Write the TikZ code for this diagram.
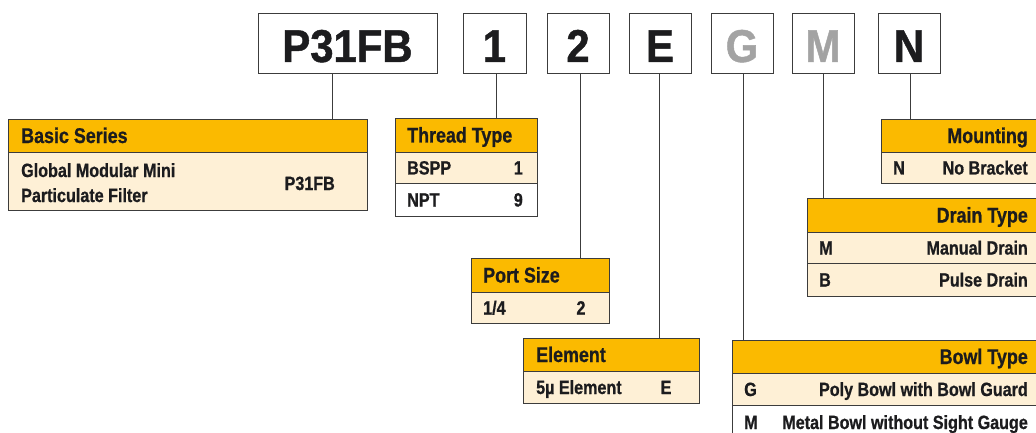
\documentclass[tikz,border=0pt]{standalone}
\usepackage{fontspec}
\newfontfamily\condf{Liberation Sans}[FakeStretch=0.84, FakeBold=0.8]
\newfontfamily\bigf{Liberation Sans}[FakeStretch=0.91, FakeBold=1]
\definecolor{hdrorange}{HTML}{FBBA00}
\definecolor{rowcream}{HTML}{FEF0D6}
\definecolor{linegrey}{HTML}{3C3C3C}
\definecolor{inkc}{HTML}{1C1C1E}
\definecolor{lightletter}{HTML}{A3A3A3}
\tikzset{
  codebox/.style={draw=linegrey, line width=1.4pt, fill=white, inner sep=0pt, minimum height=60pt, anchor=north west},
  bigtxt/.style={inner sep=0pt, anchor=base, text=inkc, font=\bigf\bfseries\fontsize{46}{50}\selectfont},
  hdrcell/.style={draw=linegrey, line width=1.1pt, fill=hdrorange, inner sep=0pt, anchor=north west},
  creamcell/.style={draw=linegrey, line width=1.1pt, fill=rowcream, inner sep=0pt, anchor=north west},
  whitecell/.style={draw=linegrey, line width=1.1pt, fill=white, inner sep=0pt, anchor=north west},
  hdrtxt/.style={inner sep=0pt, text=inkc, font=\condf\bfseries\fontsize{21.3}{24}\selectfont},
  rowtxt/.style={inner sep=0pt, text=inkc, font=\condf\bfseries\fontsize{19.2}{22}\selectfont},
  conn/.style={draw=linegrey, line width=1.2pt}
}
\begin{document}
\begin{tikzpicture}[x=1pt,y=-1pt]
\useasboundingbox (0,0) rectangle (1036,433);
\clip (0,0) rectangle (1036,433);

% ---- code boxes ----
\node[codebox, minimum width=179pt] (bxP) at (258,13) {};
\node[codebox, minimum width=63pt] (bx1) at (463,13) {};
\node[codebox, minimum width=62pt] (bx2) at (547,13) {};
\node[codebox, minimum width=62pt] (bxE) at (629,13) {};
\node[codebox, minimum width=62pt] (bxG) at (711,13) {};
\node[codebox, minimum width=62pt] (bxM) at (792,13) {};
\node[codebox, minimum width=62pt] (bxN) at (878,13) {};
\node[bigtxt] (tP) at (347.5,62) {P31FB};
\node[bigtxt] (t1) at (494.5,62) {1};
\node[bigtxt] (t2) at (578,62) {2};
\node[bigtxt] (tE) at (660,62) {E};
\node[bigtxt, text=lightletter] (tG) at (742,62) {G};
\node[bigtxt, text=lightletter] (tM) at (823,62) {M};
\node[bigtxt] (tN) at (909,62) {N};

% ---- Basic Series ----
\node[hdrcell, minimum width=359pt, minimum height=33pt] (bsH) at (8,119) {};
\node[creamcell, minimum width=359pt, minimum height=58pt] (bsR) at (8,152) {};
\node[hdrtxt, anchor=base west] (bsHt) at (21,143) {Basic Series};
\node[rowtxt, anchor=base west] (bsL1) at (21,177) {Global Modular Mini};
\node[rowtxt, anchor=base west] (bsL2) at (21,202) {Particulate Filter};
\node[rowtxt, anchor=base east] (bsV) at (335,190) {P31FB};

% ---- Thread Type ----
\node[hdrcell, minimum width=142pt, minimum height=34pt] (ttH) at (395,118) {};
\node[creamcell, minimum width=142pt, minimum height=31pt] (ttR1) at (395,152) {};
\node[whitecell, minimum width=142pt, minimum height=33pt] (ttR2) at (395,183) {};
\node[hdrtxt, anchor=base west] (ttHt) at (407,142.5) {Thread Type};
\node[rowtxt, anchor=base west] (tt1a) at (407,174.5) {BSPP};
\node[rowtxt, anchor=base east] (tt1b) at (523,174.5) {1};
\node[rowtxt, anchor=base west] (tt2a) at (407,206.5) {NPT};
\node[rowtxt, anchor=base east] (tt2b) at (523,206.5) {9};

% ---- Port Size ----
\node[hdrcell, minimum width=138pt, minimum height=34pt] (psH) at (471,258) {};
\node[creamcell, minimum width=138pt, minimum height=31pt] (psR) at (471,292) {};
\node[hdrtxt, anchor=base west] (psHt) at (483,282.5) {Port Size};
\node[rowtxt, anchor=base west] (psa) at (483,314.5) {1/4};
\node[rowtxt, anchor=base] (psb) at (581,314.5) {2};

% ---- Element ----
\node[hdrcell, minimum width=176pt, minimum height=33pt] (elH) at (523,338) {};
\node[creamcell, minimum width=176pt, minimum height=32pt] (elR) at (523,371) {};
\node[hdrtxt, anchor=base west] (elHt) at (536,362) {Element};
\node[rowtxt, anchor=base west] (ela) at (536,394) {5µ Element};
\node[rowtxt, anchor=base] (elb) at (666,394) {E};

% ---- Mounting ----
\node[hdrcell, minimum width=160pt, minimum height=33pt] (moH) at (881,119) {};
\node[creamcell, minimum width=160pt, minimum height=31pt] (moR) at (881,152) {};
\node[hdrtxt, anchor=base east] (moHt) at (1028,143) {Mounting};
\node[rowtxt, anchor=base west] (moa) at (893,174.5) {N};
\node[rowtxt, anchor=base east] (mob) at (1028,174.5) {No Bracket};

% ---- Drain Type ----
\node[hdrcell, minimum width=234pt, minimum height=34pt] (drH) at (807,198) {};
\node[creamcell, minimum width=234pt, minimum height=31pt] (drR1) at (807,232) {};
\node[creamcell, minimum width=234pt, minimum height=33pt] (drR2) at (807,263) {};
\node[hdrtxt, anchor=base east] (drHt) at (1028,222.5) {Drain Type};
\node[rowtxt, anchor=base west] (dr1a) at (819,254.5) {M};
\node[rowtxt, anchor=base east] (dr1b) at (1028,254.5) {Manual Drain};
\node[rowtxt, anchor=base west] (dr2a) at (819,286.5) {B};
\node[rowtxt, anchor=base east] (dr2b) at (1028,286.5) {Pulse Drain};

% ---- Bowl Type ----
\node[hdrcell, minimum width=309pt, minimum height=33pt] (bwH) at (732,340) {};
\node[creamcell, minimum width=309pt, minimum height=32pt] (bwR1) at (732,373) {};
\node[whitecell, minimum width=309pt, minimum height=34pt] (bwR2) at (732,405) {};
\node[hdrtxt, anchor=base east] (bwHt) at (1028,364) {Bowl Type};
\node[rowtxt, anchor=base west] (bw1a) at (744,396) {G};
\node[rowtxt, anchor=base east] (bw1b) at (1028,396) {Poly Bowl with Bowl Guard};
\node[rowtxt, anchor=base west] (bw2a) at (744,429) {M};
\node[rowtxt, anchor=base east] (bw2b) at (1028,429) {Metal Bowl without Sight Gauge};

% ---- connectors ----
\draw[conn] ([xshift=-15.5pt]bxP.south) -- ([xshift=-15.5pt]bxP.south |- bsH.north);
\draw[conn] ([xshift=1.5pt]bx1.south) -- ([xshift=1.5pt]bx1.south |- ttH.north);
\draw[conn] ([xshift=2pt]bx2.south) -- ([xshift=2pt]bx2.south |- psH.north);
\draw[conn] ([xshift=-1pt]bxE.south) -- ([xshift=-1pt]bxE.south |- elH.north);
\draw[conn] ([xshift=1pt]bxG.south) -- ([xshift=1pt]bxG.south |- bwH.north);
\draw[conn] (bxM.south) -- (bxM.south |- drH.north);
\draw[conn] ([xshift=1pt]bxN.south) -- ([xshift=1pt]bxN.south |- moH.north);
\end{tikzpicture}
\end{document}
